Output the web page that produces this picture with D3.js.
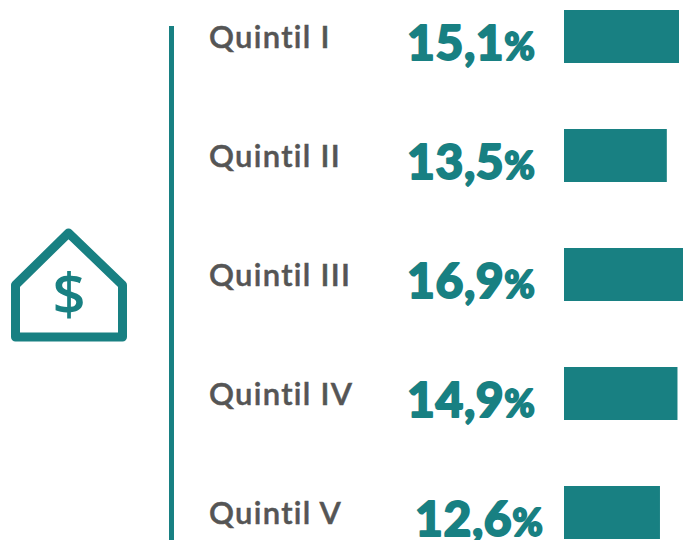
<!DOCTYPE html>
<html><head><meta charset="utf-8">
<script src="https://cdn.jsdelivr.net/npm/d3@7"></script>
<style>html,body{margin:0;padding:0;background:#fff;overflow:hidden}svg{display:block}</style></head>
<body><svg width="683" height="540"></svg>
<script>
const categories = ["Quintil I","Quintil II","Quintil III","Quintil IV","Quintil V"];
const values = [15.1,13.5,16.9,14.9,12.6];
const valueLabels = ["15,1","13,5","16,9","14,9","12,6"];
const percentSign = "%";
const teal = "#188082", grey = "#555555";
const svg = d3.select("svg");
const x = d3.scaleLinear().domain([0,15.1]).range([564,679]);
const y = d3.scalePoint().domain(categories).range([36.5,512.5]);
const valueX = [407,407,407,407,415];
svg.append("rect").attr("x",169).attr("y",26).attr("width",5).attr("height",514).attr("fill",teal);
categories.forEach((c,i)=>{
  const cy=y(c);
  svg.append("rect").attr("x",x(0)).attr("y",cy-26.5).attr("width",x(values[i])-x(0)).attr("height",53).attr("fill",teal);
  svg.append("text").attr("x",209).attr("y",cy+11).attr("font-family","Lato").attr("font-weight",600)
    .attr("font-size",31).attr("letter-spacing",1.3).attr("fill",grey).attr("stroke",grey).attr("stroke-width",0.5).text(c);
  const t=svg.append("text").attr("x",valueX[i]).attr("y",cy+23.5).attr("font-family","Lato").attr("font-weight",900)
    .attr("fill",teal).attr("stroke",teal).attr("stroke-width",1.8).attr("stroke-linejoin","round");
  t.append("tspan").attr("font-size",48).attr("letter-spacing",0.6).text(valueLabels[i]);
  t.append("tspan").attr("font-size",37).text(percentSign);
});
const icon=svg.append("g");
icon.append("path").attr("d","M15.5 337V285L68.5 233L122.5 285V337Z").attr("fill","none").attr("stroke",teal).attr("stroke-width",9).attr("stroke-linejoin","round");
icon.append("text").attr("x",69).attr("y",315).attr("text-anchor","middle").attr("font-family","Open Sans").attr("font-weight",600).attr("font-size",58).attr("fill",teal).text("$");
</script></body></html>
